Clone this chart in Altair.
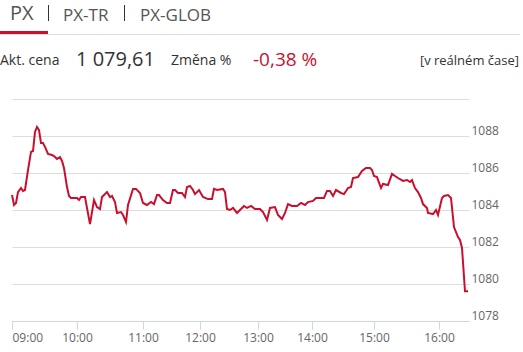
import altair as alt
import pandas as pd

# sample index along the trading day and PX index value
idx = [0, 2, 4, 6, 9, 11, 13, 16, 19, 21, 23, 25, 27, 29, 31, 33, 36, 40, 42, 45,
       48, 50, 52, 55, 57, 59, 65, 67, 69, 73, 75, 78, 82, 85, 88, 90, 95, 98, 100, 103,
       105, 109, 111, 114, 116, 121, 124, 128, 131, 135, 139, 142, 145, 147, 151, 155, 158, 161, 163, 166,
       170, 173, 175, 178, 181, 183, 187, 191, 196, 200, 202, 205, 211, 213, 215, 218, 221, 225, 228, 232,
       235, 239, 243, 248, 251, 255, 258, 263, 266, 270, 273, 276, 280, 285, 289, 293, 296, 301, 304, 312,
       315, 318, 321, 324, 329, 332, 336, 339, 341, 346, 350, 354, 358, 360, 362, 365, 369, 371, 376, 380,
       383, 386, 391, 395, 398, 400, 403, 406, 409, 411, 415, 416, 421, 424, 426, 430, 432, 436, 439, 442,
       446, 448, 450, 453, 456]
val = [1084.81, 1084.27, 1084.38, 1084.97, 1085.19, 1085.03, 1085.08, 1086.16, 1087.14, 1087.19,
       1088.22, 1088.49, 1088.32, 1087.62, 1087.62, 1087.41, 1087.03, 1086.97, 1086.92, 1086.76,
       1086.86, 1086.65, 1086.27, 1085.24, 1084.76, 1084.65, 1084.65, 1084.54, 1084.70, 1084.70,
       1084.11, 1083.24, 1084.54, 1084.16, 1084.05, 1084.70, 1084.97, 1084.70, 1084.76, 1084.43,
       1083.84, 1083.89, 1083.73, 1083.35, 1084.27, 1085.14, 1085.14, 1084.92, 1084.38, 1084.27,
       1084.43, 1084.32, 1084.81, 1084.81, 1084.54, 1084.38, 1084.38, 1085.08, 1085.08, 1084.92,
       1084.92, 1084.70, 1085.24, 1085.30, 1085.08, 1084.86, 1085.08, 1084.70, 1084.59, 1084.59,
       1085.14, 1085.08, 1085.14, 1084.97, 1084.05, 1084.00, 1084.11, 1083.84, 1084.00, 1084.22,
       1084.11, 1084.22, 1084.05, 1084.05, 1083.89, 1083.46, 1084.11, 1084.16, 1083.73, 1083.51,
       1083.84, 1084.32, 1084.22, 1084.22, 1084.38, 1084.27, 1084.43, 1084.49, 1084.65, 1084.65,
       1085.03, 1085.03, 1084.76, 1085.08, 1084.92, 1084.86, 1085.19, 1085.24, 1085.73, 1085.78,
       1086.11, 1086.27, 1086.27, 1086.16, 1085.84, 1085.78, 1085.19, 1085.41, 1085.35, 1085.95,
       1085.84, 1085.73, 1085.57, 1085.62, 1085.51, 1085.62, 1085.19, 1084.97, 1084.65, 1084.32,
       1084.11, 1083.84, 1083.78, 1084.00, 1083.73, 1084.65, 1084.76, 1084.81, 1084.65, 1083.08,
       1082.54, 1082.38, 1081.95, 1079.61, 1079.61]

tick_idx = [0, 65, 131, 188, 246, 300, 362, 427]
tick_lbl = ["09:00", "10:00", "11:00", "12:00", "13:00", "14:00", "15:00", "16:00"]
y_ticks = [1078, 1080, 1082, 1084, 1086, 1088, 1090]

tabs = ["PX", "PX-TR", "PX-GLOB"]
price_label = "Akt. cena"
price = "1 079,61"
change_label = "Změna %"
change = "-0,38 %"
realtime = "[v reálném čase]"

FONT = "Open Sans"
RED = "#c8102e"

df = pd.DataFrame({"i": idx, "v": val})

label_expr = "[" + ",".join("'%s'" % t for t in tick_lbl) + "][indexof([" + \
    ",".join(str(t) for t in tick_idx) + "], datum.value)]"

line = alt.Chart(df).mark_line(color=RED, strokeWidth=2, clip=False).encode(
    x=alt.X("i:Q", scale=alt.Scale(domain=[0, 457], nice=False, zero=False),
            axis=alt.Axis(values=tick_idx, labelExpr=label_expr, grid=False, title=None,
                          domainColor="#ccd6eb", tickColor="#ccd6eb", tickSize=8,
                          labelColor="#666666", labelFont=FONT, labelFontSize=12,
                          labelFlush=True, labelPadding=3)),
    y=alt.Y("v:Q", scale=alt.Scale(domain=[1078, 1090], nice=False, zero=False),
            axis=alt.Axis(orient="right", values=y_ticks, format="d",
                          labelExpr="datum.value == 1090 ? '' : datum.label",
                          grid=True, gridColor="#dddddd", domain=False, ticks=False,
                          title=None, labelPadding=2, labelBaseline="alphabetic",
                          labelOffset=-2, labelColor="#666666", labelFont=FONT,
                          labelFontSize=12)),
)

one = pd.DataFrame({"k": [0]})


def txt(s, x, y, size, color, align="left"):
    return alt.Chart(one).mark_text(text=s, font=FONT, fontSize=size, color=color,
                                    align=align, baseline="alphabetic").encode(
        x=alt.value(x), y=alt.value(y))


def rule(x1, x2, y, color, w):
    return alt.Chart(one).mark_rule(color=color, strokeWidth=w).encode(
        x=alt.value(x1), x2=alt.value(x2), y=alt.value(y))


top = -99
layers = [
    line,
    rule(-12, 508, top + 34.5, "#dddddd", 1),
    rule(-12, 36, top + 32.5, RED, 3),
    txt(tabs[0], -2, top + 20, 20, "#555555"),
    alt.Chart(one).mark_rule(color="#333333", strokeWidth=1).encode(
        x=alt.value(36.5), y=alt.value(top + 5), y2=alt.value(top + 21)),
    txt(tabs[1], 51, top + 21, 17, "#555555"),
    alt.Chart(one).mark_rule(color="#333333", strokeWidth=1).encode(
        x=alt.value(112.5), y=alt.value(top + 5), y2=alt.value(top + 21)),
    txt(tabs[2], 128, top + 21, 17, "#555555"),
    txt(price_label, -12, top + 65, 14, "#333333"),
    txt(price, 64, top + 66, 20, "#333333"),
    txt(change_label, 159, top + 65, 14, "#333333"),
    txt(change, 241, top + 66, 19, RED),
    txt(realtime, 507, top + 65, 13, "#333333", align="right"),
]

chart = alt.layer(*layers).properties(
    width=457, height=222,
    autosize=alt.AutoSizeParams(type="none"),
    padding={"left": 12, "top": 99, "right": 54, "bottom": 31},
    background="white",
).configure_view(stroke=None)

chart.save("out.html", embed_options={"renderer": "svg", "actions": False})
